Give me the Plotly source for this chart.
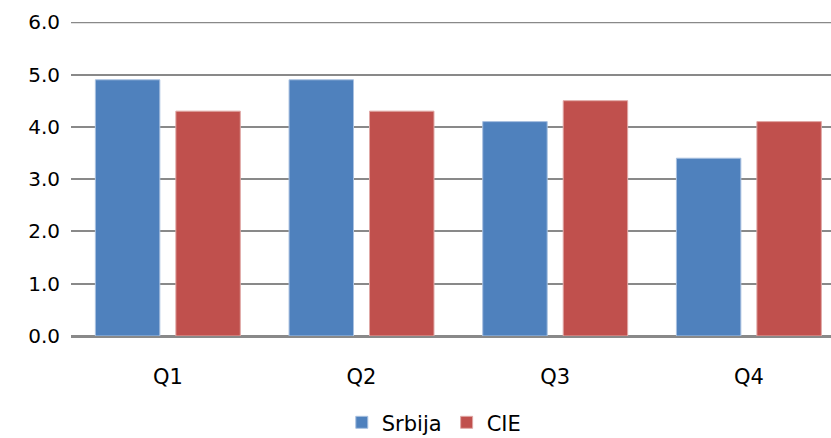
import plotly.graph_objects as go

categories = ["Q1", "Q2", "Q3", "Q4"]
srbija = [4.9, 4.9, 4.1, 3.4]
cie = [4.3, 4.3, 4.5, 4.1]
y_ticks = [0, 1, 2, 3, 4, 5, 6]
y_tick_labels = ["0.0", "1.0", "2.0", "3.0", "4.0", "5.0", "6.0"]

FONT = "DejaVu Sans"
GRID = "#898989"

fig = go.Figure()
fig.add_trace(go.Bar(name="Srbija", x=categories, y=srbija,
                     marker=dict(color="#4F81BD", line=dict(color="#A9C1E0", width=1))))
fig.add_trace(go.Bar(name="CIE", x=categories, y=cie,
                     marker=dict(color="#C0504D", line=dict(color="#E0A8A6", width=1))))

# top gridline (plotly omits the grid line sitting on the plot edge)
fig.add_shape(type="line", xref="paper", yref="y", x0=0, x1=1, y0=y_ticks[-1], y1=y_ticks[-1],
              line=dict(color=GRID, width=2), layer="below")

fig.update_layout(
    width=831, height=438,
    margin=dict(l=71, r=0, t=22, b=101.5),
    paper_bgcolor="white", plot_bgcolor="white",
    barmode="group", bargap=0.169, bargroupgap=0.199,
    font=dict(family=FONT, size=21, color="#000000"),
    showlegend=True,
    legend=dict(orientation="h", xref="container", yref="container",
                x=0.522, xanchor="center", y=0.035, yanchor="middle",
                font=dict(family=FONT, size=21), itemwidth=30, traceorder="normal"),
    xaxis=dict(range=[-0.5, 3.424], showgrid=False, zeroline=False, showline=False,
               automargin=False,
               ticks="", tickfont=dict(family=FONT, size=21), ticklabelstandoff=26),
    yaxis=dict(range=[0, 6.005], tickvals=y_ticks, ticktext=y_tick_labels,
               automargin=False,
               showgrid=True, gridcolor=GRID, gridwidth=2,
               zeroline=True, zerolinecolor=GRID, zerolinewidth=3,
               showline=False, ticks="", tickfont=dict(family=FONT, size=20),
               ticklabelstandoff=10),
)

fig.write_html("out.html", config={"displayModeBar": False},
               post_script="document.body.style.margin='0';document.body.style.overflow='hidden';")
